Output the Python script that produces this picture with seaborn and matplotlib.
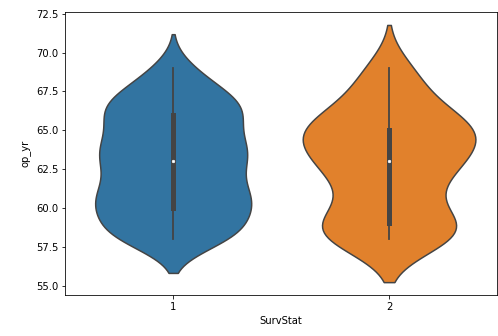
import numpy as np
import pandas as pd
import matplotlib
matplotlib.use("Agg")
import matplotlib.pyplot as plt
import seaborn as sns

# Year of operation (19xx) counts per survival status
years = [58, 59, 60, 61, 62, 63, 64, 65, 66, 67, 68, 69]
count_surv1 = [24, 18, 24, 23, 16, 22, 23, 15, 22, 21, 10, 7]
count_surv2 = [12, 9, 4, 3, 7, 8, 8, 13, 6, 4, 3, 4]
statuses = [1, 2]

rows = []
for status, counts in zip(statuses, [count_surv1, count_surv2]):
    for yr, n in zip(years, counts):
        rows += [(yr, status)] * n
df = pd.DataFrame(rows, columns=["op_yr", "SurvStat"])

plt.rcParams["font.family"] = ["DejaVu Sans"]
fig, ax = plt.subplots(figsize=(498 / 72, 336 / 72), dpi=72)
fig.subplots_adjust(left=0.131, right=0.998, top=0.964, bottom=0.122)

sns.violinplot(data=df, x="SurvStat", y="op_yr", hue="SurvStat", palette=["#1f77b4", "#ff7f0e"],
               legend=False, ax=ax, inner="box", linewidth=1.5, linecolor="#444444",
               common_norm=True,
               inner_kws=dict(box_width=5, whis_width=1.8, color="#444444",
                              marker="o", markersize=2.6, markeredgewidth=0.6))

ax.set_yticks(np.arange(55, 72.6, 2.5))
ax.set_xlabel("SurvStat", fontsize=10)
ax.set_ylabel("op_yr", fontsize=10)
ax.tick_params(labelsize=10)

fig.savefig("out.png", dpi=72)
